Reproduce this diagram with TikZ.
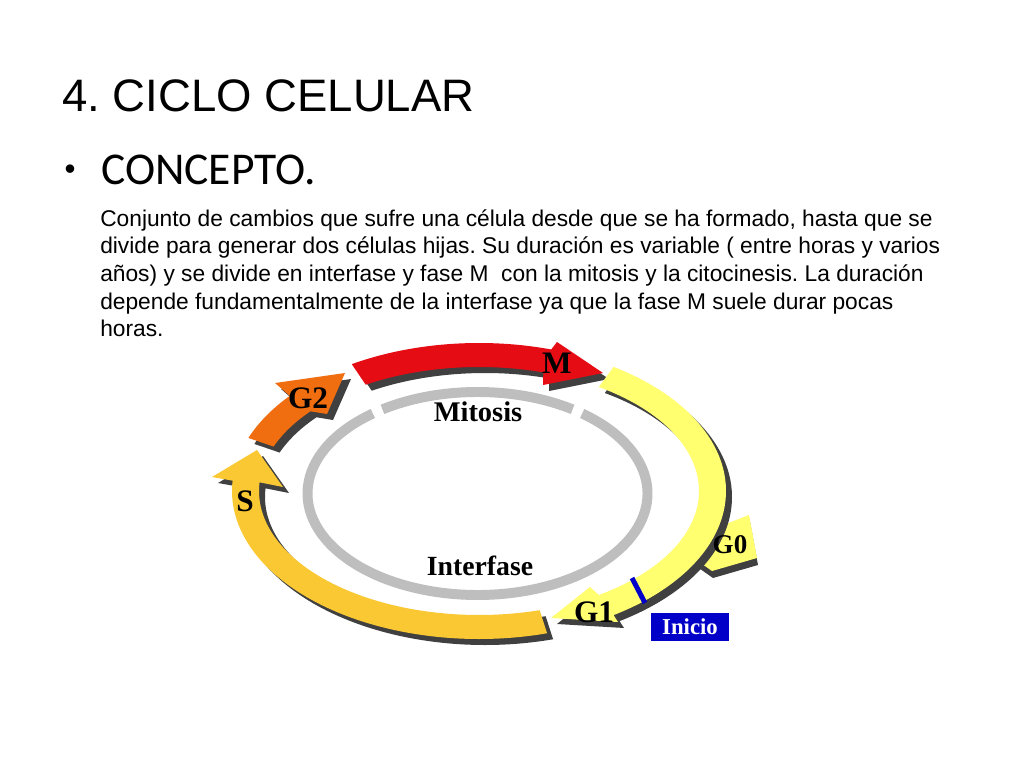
\documentclass[tikz,border=0pt]{standalone}
\usepackage{fontspec}
\setmainfont{Liberation Sans}
\newfontfamily\calibfont{Carlito}
\newfontfamily\timesfont{Liberation Serif}
\usetikzlibrary{positioning}
\frenchspacing

\definecolor{mred}{RGB}{230,12,20}
\definecolor{gtwo}{RGB}{240,110,16}
\definecolor{sgold}{RGB}{250,200,50}
\definecolor{gone}{RGB}{255,255,112}
\definecolor{shadowgray}{RGB}{64,64,64}
\definecolor{ringgray}{RGB}{190,190,190}
\definecolor{inicioblue}{RGB}{0,0,200}

% phase arrow round the ring: colour, tail angle, head angle, outer barb, tip, inner barb
\newcommand{\phasearrow}[6]{%
  \fill[#1] (#2:247 and 148) arc[start angle=#2, end angle=#3, x radius=247, y radius=148]
    -- (#4) -- (#5) -- (#6) -- (#3:220 and 124)
    arc[start angle=#3, end angle=#2, x radius=220, y radius=124] -- cycle;}

\begin{document}
\begin{tikzpicture}[x = 0.703125pt, y = 0.703125pt,
    lbl/.style = {inner sep = 0pt, font = \timesfont\bfseries\fontsize{22}{22}\selectfont},
    body/.style = {inner sep = 0pt, anchor = base west, font = \fontsize{16}{19}\selectfont}]
    \fill[white] (0, 0) rectangle (1024, -768);
    \useasboundingbox (0, 0) rectangle (1024, -768);

    \node[inner sep = 0pt, anchor = base west, font = \fontsize{32}{38}\selectfont] (title) at (62, -112) {4. CICLO CELULAR};
    \node[inner sep = 0pt, font = \fontsize{22}{22}\selectfont] (bullet) at (70, -172) {•};
    \node[inner sep = 0pt, anchor = base west, font = \calibfont\fontsize{32}{38}\selectfont] (concepto) at (101, -185) {CONCEPTO.};

    \node[body] (line1) at (100, -226.5) {Conjunto de cambios que sufre una célula desde que se ha formado, hasta que se};
    \node[body] (line2) at (100, -254) {divide para generar dos células hijas. Su duración es variable ( entre horas y varios};
    \node[body] (line3) at (100, -281.5) {años) y se divide en interfase y fase M\ \ con la mitosis y la citocinesis. La duración};
    \node[body] (line4) at (100, -309) {depende fundamentalmente de la interfase ya que la fase M suele durar pocas};
    \node[body] (line5) at (100, -336.5) {horas.};

    % inner grey ring
    \begin{scope}[shift = {(477.5, -493.5)}]
        \draw[ringgray, line width = 7pt] (56:170 and 101.5) arc[start angle = 56, end angle = 124, x radius = 170, y radius = 101.5];
        \draw[ringgray, line width = 7pt] (128:170 and 101.5) arc[start angle = 128, end angle = 412, x radius = 170, y radius = 101.5];
    \end{scope}

    % G0 exit
    \begin{scope}[shift = {(480, -498)}]
        \fill[shadowgray] (-14:247 and 148) -- (270, -24) -- (278, -67) -- (233, -80) -- (-28:247 and 148) -- cycle;
    \end{scope}
    \begin{scope}[shift = {(479, -491)}]
        \fill[gone] (-14:247 and 148) -- (270, -24) -- (278, -67) -- (233, -80) -- (-28:247 and 148) -- cycle;
    \end{scope}

    % shadows
    \begin{scope}[shift = {(485, -497)}]
        \phasearrow{shadowgray}{286}{176}{-267, 14}{-222, 41}{-196, 4}
        \phasearrow{shadowgray}{159}{140}{-204, 108}{-134, 118}{-152, 77}
        \phasearrow{shadowgray}{121}{73}{78, 149}{124, 118}{64, 106}
        \phasearrow{shadowgray}{57}{-57}{139, -131}{72, -127}{111, -96}
    \end{scope}

    % phases
    \begin{scope}[shift = {(479, -491)}]
        \phasearrow{sgold}{286}{176}{-267, 14}{-222, 41}{-196, 4}
        \phasearrow{gtwo}{159}{140}{-204, 108}{-134, 118}{-152, 77}
        \phasearrow{mred}{121}{73}{78, 149}{124, 118}{64, 106}
        \phasearrow{gone}{57}{-57}{139, -131}{72, -127}{111, -96}
    \end{scope}

    \draw[inicioblue, line width = 3.5pt] (632, -578) -- (645, -603);

    \node[lbl] (mlabel) at (557, -363) {M};
    \node[lbl] (gtwolabel) at (308, -398) {G2};
    \node[lbl] (slabel) at (245, -501) {S};
    \node[lbl] (gonelabel) at (594, -612) {G1};
    \node[lbl, font = \timesfont\bfseries\fontsize{19}{19}\selectfont] (gzerolabel) at (730, -545) {G0};
    \node[lbl, font = \timesfont\bfseries\fontsize{20}{20}\selectfont] (mitosis) at (478, -412) {Mitosis};
    \node[lbl, font = \timesfont\bfseries\fontsize{19.5}{20}\selectfont] (interfase) at (480, -566) {Interfase};
    \node[fill = inicioblue, text = white, minimum width = 54.8pt, minimum height = 19.7pt, inner sep = 0pt,
        font = \timesfont\bfseries\fontsize{16}{16}\selectfont] (inicio) at (690, -627) {Inicio};
\end{tikzpicture}
\end{document}
